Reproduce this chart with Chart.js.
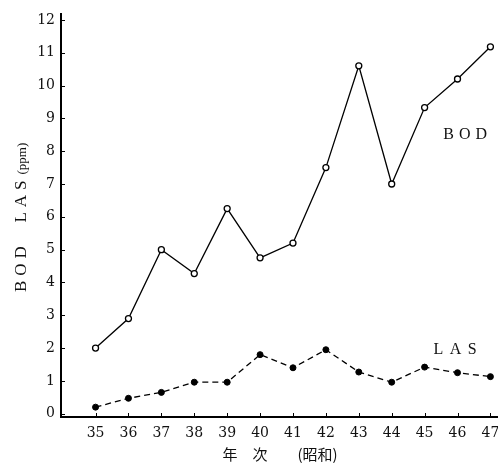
<!DOCTYPE html>
<html><head><meta charset="utf-8">
<script src="https://cdn.jsdelivr.net/npm/chart.js@4/dist/chart.umd.min.js"></script>
<style>html,body{margin:0;padding:0;background:#fff}#wrap{width:498px;height:464px;position:relative}</style>
</head><body><div id="wrap"><canvas id="c" width="498" height="464"></canvas></div>
<script>
// ---- data ----
const years = [35, 36, 37, 38, 39, 40, 41, 42, 43, 44, 45, 46, 47];
const bodValues = [2.0, 2.9, 5.0, 4.27, 6.25, 4.75, 5.2, 7.5, 10.6, 7.0, 9.33, 10.2, 11.18];
const lasValues = [0.2, 0.47, 0.65, 0.96, 0.96, 1.8, 1.4, 1.95, 1.27, 0.96, 1.42, 1.25, 1.13];
const yTickValues = [0, 1, 2, 3, 4, 5, 6, 7, 8, 9, 10, 11, 12];
const seriesNames = ['BOD', 'LAS'];
const yTitleMain = 'BOD  LAS';
const yTitleUnit = '(ppm)';
const xTitle = '年　次　　(昭和)';
// label anchor positions in data units (x = year, y = ppm)
const bodLabelAt = [45.57, 8.37];
const lasLabelAt = [45.27, 1.82];

const serif = '"Liberation Serif", "DejaVu Serif", serif';
const tickFont = '"DejaVu Serif", "Liberation Serif", serif';
const ink = '#111';

const toPoints = vals => years.map((y, i) => ({x: y, y: vals[i]}));

const decor = {
  id: 'decor',
  afterDraw(chart) {
    const ctx = chart.ctx, xs = chart.scales.x, ys = chart.scales.y;
    ctx.save();
    // inside tick marks
    ctx.strokeStyle = '#000'; ctx.lineWidth = 1;
    const a = chart.chartArea;
    years.forEach(v => {
      const px = Math.round(xs.getPixelForValue(v)) + 0.5;
      ctx.beginPath(); ctx.moveTo(px, a.bottom); ctx.lineTo(px, a.bottom - 4); ctx.stroke();
    });
    yTickValues.forEach(v => {
      const py = Math.round(ys.getPixelForValue(v)) + 0.5;
      ctx.beginPath(); ctx.moveTo(a.left, py); ctx.lineTo(a.left + 4, py); ctx.stroke();
    });
    ctx.fillStyle = ink;
    // y title (rotated)
    ctx.save();
    ctx.translate(26, 292);
    ctx.rotate(-Math.PI / 2);
    ctx.textAlign = 'left'; ctx.textBaseline = 'alphabetic';
    ctx.font = '17px ' + serif;
    ctx.letterSpacing = '5px';
    ctx.fillText(yTitleMain, 0, 0);
    const w = ctx.measureText(yTitleMain).width;
    ctx.letterSpacing = '0px';
    ctx.font = '13px ' + serif;
    ctx.fillText(yTitleUnit, w + 1, 0);
    ctx.restore();
    // x title
    ctx.font = '15px "Noto Sans CJK JP", sans-serif';
    ctx.textAlign = 'center'; ctx.textBaseline = 'middle';
    ctx.fillText(xTitle, 280, 454);
    // series labels
    ctx.font = '16px ' + serif;
    ctx.textAlign = 'left'; ctx.textBaseline = 'alphabetic';
    ctx.letterSpacing = '5px';
    ctx.fillText(seriesNames[0], xs.getPixelForValue(bodLabelAt[0]), ys.getPixelForValue(bodLabelAt[1]));
    ctx.letterSpacing = '6.5px';
    ctx.fillText(seriesNames[1], xs.getPixelForValue(lasLabelAt[0]), ys.getPixelForValue(lasLabelAt[1]));
    ctx.restore();
  }
};

new Chart(document.getElementById('c'), {
  type: 'line',
  data: {
    datasets: [
      {
        label: seriesNames[0], data: toPoints(bodValues),
        borderColor: '#000', borderWidth: 1.3, backgroundColor: '#fff',
        pointRadius: 3, pointBorderWidth: 1.3, pointBackgroundColor: '#fff', pointBorderColor: '#000',
        tension: 0, fill: false, clip: 8
      },
      {
        label: seriesNames[1], data: toPoints(lasValues),
        borderColor: '#000', borderWidth: 1.3, borderDash: [6, 4], backgroundColor: '#000',
        pointRadius: 3, pointBorderWidth: 1, pointBackgroundColor: '#000', pointBorderColor: '#000',
        tension: 0, fill: false, clip: 8
      }
    ]
  },
  options: {
    responsive: false, animation: false, devicePixelRatio: 1,
    layout: {autoPadding: false, padding: {top: 14, right: 1, left: 0, bottom: 0}},
    plugins: {legend: {display: false}, tooltip: {enabled: false}},
    scales: {
      x: {
        type: 'linear', min: 33.95, max: 47.2,
        afterBuildTicks: s => { s.ticks = years.map(v => ({value: v})); },
        afterFit: s => { s.height = 47; s.paddingLeft = 0; s.paddingRight = 0; },
        ticks: {callback: v => String(v), font: {family: tickFont, size: 14}, color: ink, padding: 8, maxRotation: 0, autoSkip: false},
        grid: {drawOnChartArea: false, drawTicks: false},
        border: {color: '#000', width: 2}
      },
      y: {
        type: 'linear', min: -0.1, max: 12.18,
        afterBuildTicks: s => { s.ticks = yTickValues.map(v => ({value: v})); },
        afterFit: s => { s.width = 61; s.paddingTop = 0; s.paddingBottom = 0; },
        ticks: {callback: v => String(v), font: {family: tickFont, size: 14}, color: ink, padding: 6},
        grid: {drawOnChartArea: false, drawTicks: false},
        border: {color: '#000', width: 2}
      }
    }
  },
  plugins: [decor]
});
</script></body></html>
